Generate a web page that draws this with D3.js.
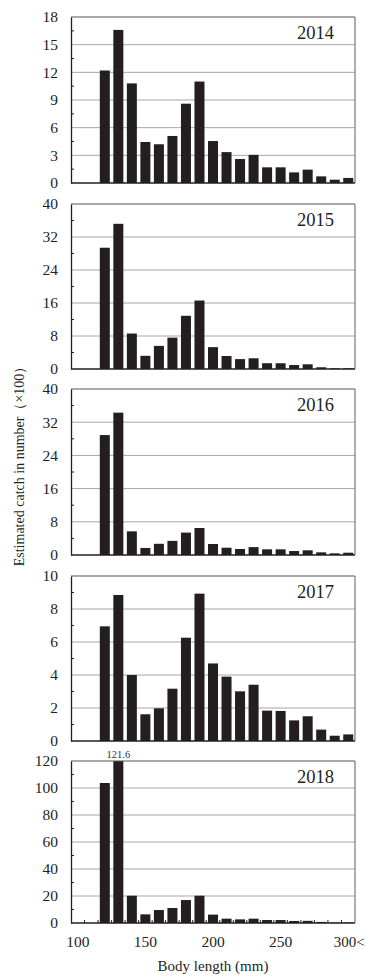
<!DOCTYPE html>
<html>
<head>
<meta charset="utf-8">
<script src="https://cdn.jsdelivr.net/npm/d3@7"></script>
<style>
  html, body { margin: 0; padding: 0; background: #fff; }
  svg { display: block; font-family: "Liberation Serif", "Times New Roman", serif; }
</style>
</head>
<body>
<svg id="chart" width="366" height="976"></svg>
<script>
// Body length classes (mm); the last class stands for 300 mm and over
const lengths = [120, 130, 140, 150, 160, 170, 180, 190, 200, 210, 220, 230, 240, 250, 260, 270, 280, 290, 300];

// Estimated catch in number (x100) per length class, one array per year
const catch2014 = [12.2, 16.6, 10.8, 4.45, 4.2, 5.1, 8.6, 11.0, 4.55, 3.35, 2.6, 3.05, 1.7, 1.7, 1.15, 1.45, 0.72, 0.36, 0.55];
const catch2015 = [29.4, 35.2, 8.6, 3.2, 5.6, 7.6, 12.9, 16.6, 5.3, 3.15, 2.4, 2.6, 1.4, 1.4, 0.97, 1.14, 0.42, 0.17, 0.17];
const catch2016 = [28.9, 34.3, 5.7, 1.7, 2.7, 3.4, 5.4, 6.5, 2.65, 1.75, 1.45, 1.9, 1.37, 1.37, 0.96, 1.13, 0.64, 0.4, 0.55];
const catch2017 = [6.95, 8.85, 4.0, 1.62, 1.98, 3.17, 6.26, 8.93, 4.7, 3.9, 3.01, 3.41, 1.84, 1.82, 1.25, 1.5, 0.69, 0.32, 0.4];
const catch2018 = [103.7, 121.6, 20.2, 6.4, 9.6, 11.1, 17.0, 20.2, 6.2, 3.2, 2.7, 3.2, 2.2, 2.2, 1.5, 1.6, 0.8, 0.3, 0.3];

const years = ["2014", "2015", "2016", "2017", "2018"];
const seriesByYear = [catch2014, catch2015, catch2016, catch2017, catch2018];

// Y-axis tick labels for each panel
const yTicks2014 = [0, 3, 6, 9, 12, 15, 18];
const yTicks2015 = [0, 8, 16, 24, 32, 40];
const yTicks2016 = [0, 8, 16, 24, 32, 40];
const yTicks2017 = [0, 2, 4, 6, 8, 10];
const yTicks2018 = [0, 20, 40, 60, 80, 100, 120];
const yTicksByYear = [yTicks2014, yTicks2015, yTicks2016, yTicks2017, yTicks2018];

// X-axis tick labels (bottom panel only)
const xTickValues = [100, 150, 200, 250, 300];
const xTickLabels = ["100", "150", "200", "250", "300<"];

const labelledValue = { year: "2018", length: 130, value: 121.6 };

// ---- layout ----
const svg = d3.select("#chart");
const left = 71, right = 355;
const panelTops = [17, 204, 389, 576, 761];
const panelHeights = [166, 165, 166, 165, 162];

const x = d3.scaleLinear().domain([95, 305]).range([left, right]);
const barWidth = (x(110) - x(100)) * 0.74;

const gridColor = "#a6a6a6";
const barColor = "#231f20";
const textColor = "#231f20";

years.forEach((year, i) => {
  const top = panelTops[i];
  const h = panelHeights[i];
  const ticks = yTicksByYear[i];
  const yMax = ticks[ticks.length - 1];
  const step = ticks[1] - ticks[0];
  const y = d3.scaleLinear().domain([0, yMax]).range([top + h, top]);
  const values = seriesByYear[i];

  const g = svg.append("g").attr("class", "panel-" + year);

  const clipId = "clip-" + year;
  svg.append("clipPath").attr("id", clipId)
    .append("rect").attr("x", left).attr("y", top).attr("width", right - left).attr("height", h);

  // horizontal gridlines at the major ticks
  g.selectAll("line.grid").data(ticks.slice(1, -1)).join("line")
    .attr("class", "grid")
    .attr("x1", left).attr("x2", right)
    .attr("y1", d => y(d)).attr("y2", d => y(d))
    .attr("stroke", gridColor).attr("stroke-width", 1);

  // bars
  g.append("g").attr("clip-path", `url(#${clipId})`)
    .selectAll("rect").data(lengths.map((len, k) => ({ len, v: values[k] }))).join("rect")
    .attr("x", d => x(d.len) - barWidth / 2)
    .attr("width", barWidth)
    .attr("y", d => y(Math.min(d.v, yMax * 1.02)))
    .attr("height", d => y(0) - y(Math.min(d.v, yMax * 1.02)))
    .attr("fill", barColor);

  // frame: top and right in grey, left axis and baseline in black
  g.append("line").attr("x1", left).attr("x2", right).attr("y1", top).attr("y2", top)
    .attr("stroke", "#555").attr("stroke-width", 1.2);
  g.append("line").attr("x1", right).attr("x2", right).attr("y1", top).attr("y2", top + h)
    .attr("stroke", "#777").attr("stroke-width", 1.2);

  // left axis with minor ticks pointing inward
  const yAxis = d3.axisLeft(y).tickValues(ticks).tickSize(0).tickPadding(13).tickFormat(d3.format("d"));
  const ya = g.append("g").attr("transform", `translate(${left},0)`).call(yAxis);
  ya.select(".domain").attr("stroke", "#231f20").attr("stroke-width", 1.3);
  ya.selectAll("text").attr("font-size", "15.5px").attr("fill", textColor)
    .attr("font-family", '"Liberation Serif", "Times New Roman", serif');

  const minor = d3.range(step / 2, yMax, step);
  g.selectAll("line.minor").data(minor).join("line")
    .attr("class", "minor")
    .attr("x1", left).attr("x2", left + 3)
    .attr("y1", d => y(d)).attr("y2", d => y(d))
    .attr("stroke", "#231f20").attr("stroke-width", 1);

  // baseline
  g.append("line").attr("x1", left).attr("x2", right).attr("y1", y(0)).attr("y2", y(0))
    .attr("stroke", "#231f20").attr("stroke-width", 1.3);

  // year label
  g.append("text")
    .attr("x", right - 21).attr("y", top + 22)
    .attr("text-anchor", "end")
    .attr("font-size", "18.5px").attr("fill", textColor)
    .text(year);

  // value label for the bar that runs past the axis maximum
  if (year === labelledValue.year) {
    g.append("text")
      .attr("x", x(labelledValue.length)).attr("y", y(yMax) - 3)
      .attr("text-anchor", "middle")
      .attr("font-size", "10.5px").attr("fill", "#333")
      .text(labelledValue.value.toFixed(1));
  }

  // x axis on the bottom panel
  if (i === years.length - 1) {
    const base = y(0);
    const classEdges = d3.range(105, 300, 10);
    g.selectAll("line.xminor").data(classEdges).join("line")
      .attr("class", "xminor")
      .attr("x1", d => x(d)).attr("x2", d => x(d))
      .attr("y1", base).attr("y2", base - 3)
      .attr("stroke", "#231f20").attr("stroke-width", 1);

    const last = xTickValues.length - 1;
    g.selectAll("text.xlab").data(xTickValues).join("text")
      .attr("class", "xlab")
      .attr("x", (d, k) => k === last ? x(d) - 14.5 : x(d))
      .attr("y", base + 24)
      .attr("text-anchor", (d, k) => k === last ? "start" : "middle")
      .attr("font-size", (d, k) => k === last ? "15px" : "15.5px")
      .attr("fill", textColor)
      .text((d, k) => xTickLabels[k]);
  }
});

// axis titles
svg.append("text")
  .attr("x", (left + right) / 2).attr("y", 971)
  .attr("text-anchor", "middle")
  .attr("font-size", "15px").attr("fill", textColor)
  .text("Body length (mm)");

svg.append("text")
  .attr("transform", "translate(24,463) rotate(-90)")
  .attr("text-anchor", "middle")
  .attr("font-size", "14px").attr("fill", textColor)
  .text("Estimated catch in number（×100）");
</script>
</body>
</html>
